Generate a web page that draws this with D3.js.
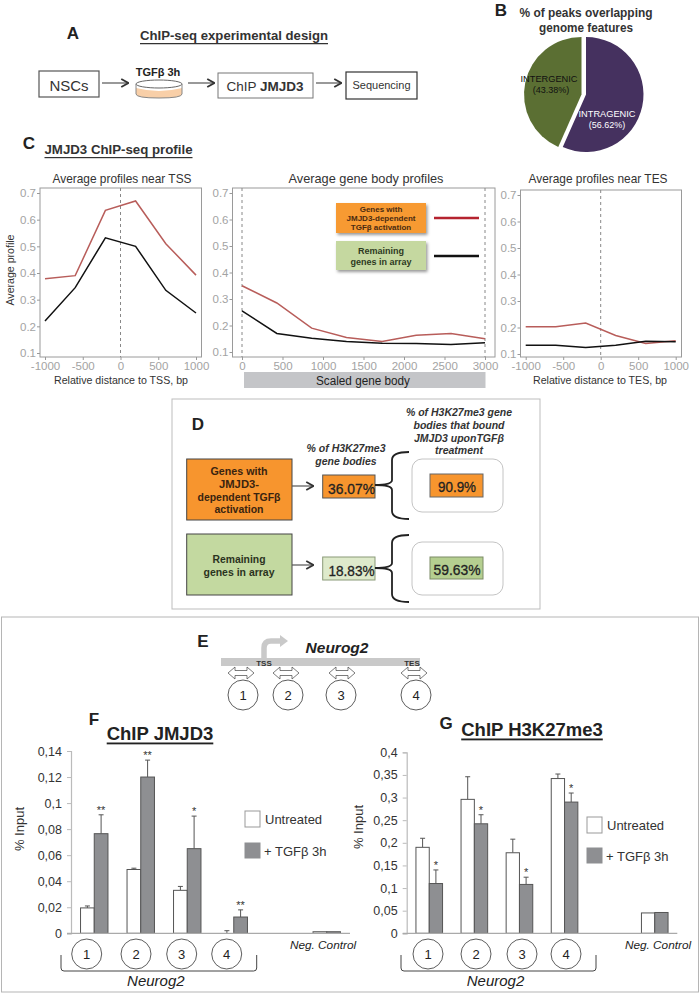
<!DOCTYPE html>
<html><head><meta charset="utf-8">
<script src="https://cdn.jsdelivr.net/npm/d3@7/dist/d3.min.js"></script>
<style>html,body{margin:0;padding:0;background:#fff}svg{display:block}text{font-family:"Liberation Sans",Arial,sans-serif}</style>
</head><body><svg id="fig" width="700" height="993"></svg>
<script>
// ---- data ----
const pieLabels = ["INTRAGENIC","INTERGENIC"];
const pieValues = [56.62,43.38];
const tssX = [-1000,-600,-200,200,600,1000];
const tssRed = [0.378,0.39,0.635,0.67,0.51,0.392];
const tssBlack = [0.22,0.345,0.532,0.5,0.335,0.25];
const bodyX = [0,430,860,1290,1730,2150,2580,3000];
const bodyRed = [0.35,0.285,0.19,0.155,0.14,0.163,0.17,0.15];
const bodyBlack = [0.255,0.17,0.152,0.14,0.133,0.132,0.128,0.135];
const tesX = [-1000,-600,-200,200,600,1000];
const tesRed = [0.203,0.203,0.217,0.17,0.14,0.15];
const tesBlack = [0.133,0.133,0.125,0.133,0.148,0.146];
const barCats = ["1","2","3","4","gap","neg"];
const fUntreated = [0.0195,0.049,0.033,0,null,0.0012];
const fTreated = [0.0765,0.12,0.065,0.0125,null,0.0012];
const fUntreatedTop = [0.021,0.05,0.036,0.002,null,null];
const fTreatedTop = [0.091,0.133,0.09,0.018,null,null];
const fStars = ["**","**","*","**","",""];
const fTicks = [0,0.02,0.04,0.06,0.08,0.1,0.12,0.14];
const gUntreated = [0.19,0.296,0.178,0.342,null,0.045];
const gTreated = [0.11,0.242,0.108,0.29,null,0.046];
const gUntreatedTop = [0.21,0.346,0.208,0.352,null,null];
const gTreatedTop = [0.14,0.262,0.124,0.31,null,null];
const gStars = ["*","*","*","*","",""];
const gTicks = [0,0.05,0.1,0.15,0.2,0.25,0.3,0.35,0.4];
const profileTicks = [0.1,0.2,0.3,0.4,0.5,0.6,0.7];

// ---- helpers ----
const svg = d3.select("#fig");
const defs = svg.append("defs");
const sh = defs.append("filter").attr("id","sh").attr("x","-10%").attr("y","-10%").attr("width","125%").attr("height","130%");
sh.append("feDropShadow").attr("dx",1.5).attr("dy",2).attr("stdDeviation",1.5).attr("flood-color","#000").attr("flood-opacity",0.4);
const mk = defs.append("marker").attr("id","ah").attr("viewBox","0 0 10 10").attr("refX",8.5).attr("refY",5)
  .attr("markerWidth",9).attr("markerHeight",11).attr("markerUnits","userSpaceOnUse").attr("orient","auto");
mk.append("path").attr("d","M1,0.5L9,5L1,9.5").attr("fill","none").attr("stroke","#333").attr("stroke-width",2);

function T(x,y,s,o={}){
  const t = svg.append("text").attr("x",x).attr("y",y).text(s)
    .attr("font-size",o.size||12).attr("fill",o.fill||"#222")
    .attr("text-anchor",o.anchor||"middle").attr("dominant-baseline","central");
  if(o.bold) t.attr("font-weight","bold");
  if(o.italic) t.attr("font-style","italic");
  if(o.under) t.attr("text-decoration","underline");
  if(o.len) t.attr("textLength",o.len).attr("lengthAdjust","spacingAndGlyphs");
  if(o.rot) t.attr("transform",`rotate(${o.rot},${x},${y})`);
  return t;
}
function R(x0,y0,x1,y1,fill,stroke,sw=1,rx=0){
  return svg.append("rect").attr("x",x0).attr("y",y0).attr("width",x1-x0).attr("height",y1-y0)
    .attr("fill",fill).attr("stroke",stroke||"none").attr("stroke-width",sw).attr("rx",rx);
}
function Arrow(x0,y,x1){
  svg.append("line").attr("x1",x0).attr("x2",x1).attr("y1",y).attr("y2",y).attr("stroke","#555").attr("stroke-width",1.2).attr("marker-end","url(#ah)");
}

// ---- A ----
T(73,33,"A",{size:17,bold:true});
T(234,36,"ChIP-seq experimental design",{size:12.5,bold:true,under:true,len:188,fill:"#333"});
R(39,71,99,97,"#fff","#555",1.2);
T(69,85,"NSCs",{size:15,fill:"#333"});
Arrow(102,83,128);
T(158,72,"TGFβ 3h",{size:11,bold:true});
svg.append("path").attr("d","M136,88V94Q136,98 159,98Q182,98 182,94V88Q170,91 159,91Q148,91 136,88Z").attr("fill","#f8cfa8");
svg.append("ellipse").attr("cx",159).attr("cy",84).attr("rx",23).attr("ry",4).attr("fill","#fff").attr("stroke","#666");
svg.append("path").attr("d","M136,84V94Q136,98 159,98Q182,98 182,94V84").attr("fill","none").attr("stroke","#888");
Arrow(188,83,214);
R(218,73,313,98,"#fff","#777",1);
const chip = T(265,86,"ChIP ",{size:13.5,fill:"#333"}); chip.append("tspan").attr("font-weight","bold").text("JMJD3");
Arrow(316,83,341);
R(346,72,417,99,"#fff","#333",1.2);
T(381.5,85,"Sequencing",{size:11,fill:"#333"});

// ---- B ----
T(501,10,"B",{size:17,bold:true});
T(586,13,"% of peaks overlapping",{size:12,bold:true,fill:"#333",len:133});
T(586,28,"genome features",{size:12,bold:true,fill:"#333",len:94});
const pieGen = d3.pie().sort(null)(pieValues);
const arc = d3.arc().innerRadius(0).outerRadius(57.5);
const pieCols = ["#45315f","#5b6f33"], pieCx = [586,581.5];
pieGen.forEach((d,i)=>{
  svg.append("path").attr("d",arc(d)).attr("fill",pieCols[i]).attr("transform",`translate(${pieCx[i]},94.5)`);
});
T(607,114,pieLabels[0],{size:9,fill:"#fff",len:57});
T(607,125,"("+pieValues[0].toFixed(2)+"%)",{size:9,fill:"#fff"});
T(549,79,pieLabels[1],{size:9,fill:"#111",len:57});
T(551,90,"("+pieValues[1].toFixed(2)+"%)",{size:9,fill:"#111"});

// ---- C ----
T(29,143,"C",{size:17,bold:true});
T(118.5,150,"JMJD3 ChIP-seq profile",{size:12,bold:true,under:true,len:148,fill:"#333"});
function profile(o){
  const x = d3.scaleLinear().domain(o.xd).range(o.xr);
  const y = d3.scaleLinear().domain([0.1,0.7]).range(o.yr);
  const g = svg.append("g");
  g.append("rect").attr("x",o.f[0]).attr("y",o.f[1]).attr("width",o.f[2]-o.f[0]).attr("height",o.f[3]-o.f[1])
    .attr("fill","#fff").attr("stroke","#9a9a9a").attr("stroke-width",1);
  const ax = g.append("g").attr("transform",`translate(${o.f[0]},0)`).call(d3.axisLeft(y).tickValues(profileTicks).tickSize(3).tickPadding(1).tickFormat(d3.format(".1f")));
  const bx = g.append("g").attr("transform",`translate(0,${o.f[3]})`).call(d3.axisBottom(x).tickValues(o.xt).tickSize(3).tickPadding(2).tickFormat(d=>String(d)));
  [ax,bx].forEach(a=>{a.select(".domain").remove();a.selectAll("line").attr("stroke","#999");
    a.selectAll("text").attr("fill","#a3a3a3").attr("font-size",11.5).attr("font-family",'"Liberation Sans",Arial,sans-serif');});
  o.vl.forEach(v=>g.append("line").attr("x1",x(v)).attr("x2",x(v)).attr("y1",o.f[1]).attr("y2",o.f[3]).attr("stroke","#888").attr("stroke-dasharray","3,3"));
  const line = d3.line().x((d,i)=>x(o.xs[i])).y(d=>y(d));
  g.append("path").attr("d",line(o.red)).attr("fill","none").attr("stroke","#b85d5a").attr("stroke-width",1.5);
  g.append("path").attr("d",line(o.black)).attr("fill","none").attr("stroke","#111").attr("stroke-width",1.5);
}
profile({xd:[-1000,1000],xr:[45,196],yr:[353,193],f:[40,188,201.5,357],xt:[-1000,-500,0,500,1000],vl:[0],xs:tssX,red:tssRed,black:tssBlack});
profile({xd:[0,3000],xr:[242,485],yr:[352,193],f:[232.5,188,495,357],xt:[0,500,1000,1500,2000,2500,3000],vl:[0,3000],xs:bodyX,red:bodyRed,black:bodyBlack});
profile({xd:[-1000,1000],xr:[525.7,675.7],yr:[354,195],f:[520.5,190,681.5,357],xt:[-1000,-500,0,500,1000],vl:[0],xs:tesX,red:tesRed,black:tesBlack});
T(122,178,"Average profiles near TSS",{size:13,fill:"#333",len:139});
T(366,178,"Average gene body  profiles",{size:13,fill:"#333",len:155});
T(598,178,"Average profiles near TES",{size:13,fill:"#333",len:139});
T(121,380,"Relative distance to TSS, bp",{size:11,fill:"#333",len:134});
T(600,380,"Relative distance to TES, bp",{size:11,fill:"#333",len:134});
T(10,270,"Average profile",{size:11,fill:"#333",rot:-90,len:71});
R(244,372,485.5,388,"#c4c5c8");
T(363,381,"Scaled gene body",{size:12.5,fill:"#222",len:94});
R(336,203,426,233,"#f79a33").attr("filter","url(#sh)");
R(336,241,426,270,"#c5d8a0").attr("filter","url(#sh)");
["Genes with","JMJD3-dependent","TGFβ activation"].forEach((s,i)=>T(381,209+i*9.4,s,{size:8,bold:true,fill:"#4a2a10"}));
["Remaining","genes in array"].forEach((s,i)=>T(381,251+i*11,s,{size:9,bold:true,fill:"#2e3a22"}));
svg.append("line").attr("x1",434).attr("x2",479).attr("y1",218).attr("y2",218).attr("stroke","#b5232f").attr("stroke-width",2.5);
svg.append("line").attr("x1",434).attr("x2",479).attr("y1",256).attr("y2",256).attr("stroke","#111").attr("stroke-width",2.5);

// ---- D ----
R(172,399,540,609,"#fff","#bdbdbd",1);
T(198,424,"D",{size:17,bold:true});
R(186.7,459,292,520,"#f7952e","#444",1);
[["Genes with",57],["JMJD3-",40],["dependent TGFβ",83],["activation",49]].forEach((s,i)=>T(239,471+i*12.8,s[0],{size:11,bold:true,fill:"#3a2410",len:s[1]}));
R(186.7,534,292,595,"#c3d9a0","#444",1);
[["Remaining",53],["genes in array",71]].forEach((s,i)=>T(239,559+i*13,s[0],{size:11,bold:true,fill:"#2b3320",len:s[1]}));
Arrow(292,486,313); Arrow(292,565,313);
R(322.7,475,375,498,"#f7952e","#555",1);
T(351.5,489,"36.07%",{size:14.5,fill:"#222",len:47}).attr("stroke","#222").attr("stroke-width",0.3);
R(322.7,557,375,580,"#deeacb","#8a9a78",1);
T(351.5,571,"18.83%",{size:14.5,fill:"#222",len:46}).attr("stroke","#222").attr("stroke-width",0.3);
T(346,448,"% of H3K27me3",{size:10.5,bold:true,italic:true,fill:"#333",len:79});
T(346,461,"gene bodies",{size:10.5,bold:true,italic:true,fill:"#333"});
["% of H3K27me3 gene","bodies  that bound","JMJD3 uponTGFβ","treatment"].forEach((s,i)=>T(459,412+i*12.8,s,{size:10.5,bold:true,italic:true,fill:"#333"}));
function brace(top,bot,mid){
  svg.append("path").attr("fill","none").attr("stroke","#222").attr("stroke-width",1.8)
   .attr("d",`M409,${top}Q392,${top} 392,${top+8}V${mid-5}Q392,${mid} 375,${mid}Q392,${mid} 392,${mid+5}V${bot-8}Q392,${bot} 409,${bot}`);
}
brace(452,519,485); brace(535,602,568);
R(412,459,503,512,"#fff","#c4c4c4",1,10);
R(412,542,503,595,"#fff","#c4c4c4",1,10);
R(430,474,483,497,"#f7952e","#666",1);
T(457,487,"90.9%",{size:14.5,fill:"#222",len:38}).attr("stroke","#222").attr("stroke-width",0.3);
R(430,557,483,579,"#b5cf90","#7d8c66",1);
T(457,570,"59.63%",{size:14.5,fill:"#222",len:47}).attr("stroke","#222").attr("stroke-width",0.3);

// ---- E ----
R(1.5,617,698.5,992,"#fff","#b5b5b5",1);
T(203,641,"E",{size:17,bold:true});
R(221,658,420,666,"#c9c9c9");
svg.append("path").attr("d","M264,660V648Q264,641 271,641H281").attr("fill","none").attr("stroke","#c9c9c9").attr("stroke-width",5.5);
svg.append("path").attr("d","M280,635L288,641L280,647Z").attr("fill","#c9c9c9");
T(264,663,"TSS",{size:8,bold:true,fill:"#333"});
T(412,663,"TES",{size:8,bold:true,fill:"#333"});
T(337,647,"Neurog2",{size:15.5,bold:true,italic:true,fill:"#222"});
[[228,243],[273,288],[329,341],[401,416]].forEach((p,i)=>{
  const a=p[0],b=a+26;
  svg.append("path").attr("fill","#fff").attr("stroke","#444").attr("stroke-width",0.7)
    .attr("d",`M${a},673L${a+7},667V670.5H${b-7}V667L${b},673L${b-7},679V675.5H${a+7}V679Z`);
  svg.append("circle").attr("cx",p[1]).attr("cy",695).attr("r",15).attr("fill","#fff").attr("stroke","#333").attr("stroke-width",0.8);
  T(p[1],695.5,String(i+1),{size:13});
});

// ---- F, G ----
function bars(o){
  const x = d3.scaleBand().domain(barCats).range([o.x0,o.x1]);
  const sub = d3.scaleBand().domain(["u","t"]).range([x.bandwidth()*0.205,x.bandwidth()*0.795]);
  const y = d3.scaleLinear().domain(o.yd).range([933.3,o.ytop]);
  const g = svg.append("g");
  const ya = g.append("g").attr("transform",`translate(${o.x0},0)`).call(d3.axisLeft(y).tickValues(o.ticks).tickSize(4).tickPadding(5)
     .tickFormat(d=>String(d).replace(".",",")));
  ya.selectAll("line").attr("stroke","#bbb"); ya.select(".domain").attr("stroke","#bbb").attr("stroke-width",1.2);
  ya.selectAll("text").attr("fill","#333").attr("font-size",12.5).attr("font-family",'"Liberation Sans",Arial,sans-serif');
  [["u",o.u,o.ut,"#fff"],["t",o.t,o.tt,"#8e8f92"]].forEach(([k,vals,tops,fill])=>{
    barCats.forEach((c,i)=>{
      if(vals[i]===null) return;
      const bx = x(c)+sub(k), bw = sub.bandwidth(), cx = bx+bw/2;
      if(tops[i]!==null){
        g.append("path").attr("d",`M${cx},${y(vals[i])}V${y(tops[i])}M${cx-2.5},${y(tops[i])}H${cx+2.5}`).attr("stroke","#555").attr("stroke-width",1).attr("fill","none");
      }
      g.append("rect").attr("x",bx).attr("width",bw).attr("y",y(vals[i])).attr("height",Math.max(0,y(0)-y(vals[i])))
        .attr("fill",fill).attr("stroke","#555").attr("stroke-width",1);
      if(k==="t" && o.stars[i]) T(cx,y(tops[i])-5,o.stars[i],{size:11,fill:"#333"});
    });
  });
  g.append("line").attr("x1",o.x0-4).attr("x2",o.x1).attr("y1",y(0)).attr("y2",y(0)).attr("stroke","#aaa").attr("stroke-width",1.2);
  T(o.label[0],o.label[1],o.title[0],{size:17,bold:true});
  T(o.title[1],o.title[2],o.title[3],{size:18.5,bold:true,under:true,fill:"#222"});
  T(o.yt[0],o.yt[1],"% Input",{size:13,rot:-90,fill:"#333"});
  R(o.leg[0],o.leg[1],o.leg[0]+15,o.leg[1]+16,"#fff","#999",1);
  T(o.leg[0]+20,o.leg[1]+8,"Untreated",{size:13,anchor:"start",fill:"#333"});
  R(o.leg[0],o.leg[2],o.leg[0]+15,o.leg[2]+15,"#8e8f92","#8e8f92",1);
  T(o.leg[0]+19,o.leg[2]+8,"+ TGFβ 3h",{size:13,anchor:"start",fill:"#333"});
  o.circ.forEach((cx,i)=>{
    svg.append("circle").attr("cx",cx).attr("cy",954).attr("r",15).attr("fill","#fff").attr("stroke","#333").attr("stroke-width",0.8);
    T(cx,954.5,String(i+1),{size:13});
  });
  const [b0,b1]=o.br;
  svg.append("path").attr("fill","none").attr("stroke","#444").attr("stroke-width",1)
    .attr("d",`M${b0},955V968Q${b0},971 ${b0+3},971H${b1-3}Q${b1},971 ${b1},968V955`);
  T((b0+b1)/2-3,980,"Neurog2",{size:15,italic:true,fill:"#222"});
  T(o.neg,945,"Neg. Control",{size:11.8,italic:true,fill:"#222"});
}
bars({x0:71,x1:350,yd:[0,0.14],ytop:751,ticks:fTicks,u:fUntreated,t:fTreated,ut:fUntreatedTop,tt:fTreatedTop,stars:fStars,
  label:[94,719],title:["F",160,733,"ChIP JMJD3"],yt:[19,829],leg:[245,811,843],circ:[86.7,136,181.7,226.7],br:[61,256.7],neg:323});
bars({x0:406.7,x1:677.3,yd:[0,0.4],ytop:752.3,ticks:gTicks,u:gUntreated,t:gTreated,ut:gUntreatedTop,tt:gTreatedTop,stars:gStars,
  label:[446,723],title:["G",532,729,"ChIP H3K27me3"],yt:[358,827],leg:[587,817,848],circ:[428,476,522,566],br:[401,596],neg:658});
</script></body></html>
